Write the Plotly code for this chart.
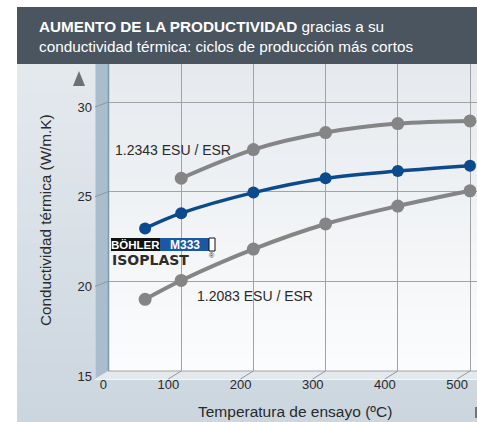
import plotly.graph_objects as go

# ---- data ----
temps_1_2343 = [100, 200, 300, 400, 500]
vals_1_2343 = [25.75, 27.35, 28.3, 28.8, 28.95]

temps_m333 = [50, 100, 200, 300, 400, 500]
vals_m333 = [22.95, 23.8, 24.95, 25.75, 26.15, 26.45]

temps_1_2083 = [50, 100, 200, 300, 400, 500]
vals_1_2083 = [19.0, 20.05, 21.8, 23.2, 24.2, 25.05]

x_ticks = [0, 100, 200, 300, 400, 500]
y_ticks = [15, 20, 25, 30]

W, H = 477, 422
L, T, B = 109, 64, 51
PW = W - L
PH = H - T - B


def X(px):
    return (px - L) / PW


def Y(py):
    return (H - B - py) / PH


FONT = "Liberation Sans, Arial, sans-serif"
GRAY = "#858585"
BLUE = "#0b4a8c"

fig = go.Figure()

fig.add_trace(go.Scatter(x=temps_1_2343, y=vals_1_2343, mode="lines+markers",
                         line=dict(color=GRAY, width=4, shape="spline"),
                         marker=dict(color=GRAY, size=13), hoverinfo="x+y"))
fig.add_trace(go.Scatter(x=temps_1_2083, y=vals_1_2083, mode="lines+markers",
                         line=dict(color=GRAY, width=4, shape="spline"),
                         marker=dict(color=GRAY, size=13), hoverinfo="x+y"))
fig.add_trace(go.Scatter(x=temps_m333, y=vals_m333, mode="lines+markers",
                         line=dict(color=BLUE, width=3.5, shape="spline"),
                         marker=dict(color=BLUE, size=12), hoverinfo="x+y"))

shapes = []


def prect(x0, y0, x1, y1, color, layer="below", line=None):
    shapes.append(dict(type="rect", xref="paper", yref="paper",
                       x0=X(x0), x1=X(x1), y0=Y(y0), y1=Y(y1),
                       fillcolor=color, line=line or dict(width=0), layer=layer))


def lerp(c0, c1, t):
    return "rgb(%d,%d,%d)" % tuple(round(a + (b - a) * t) for a, b in zip(c0, c1))


# outer background gradient
n = 24
top_c, bot_c = (228, 233, 238), (204, 214, 223)
for i in range(n):
    y0 = 64 + (422 - 64) * i / n
    y1 = 64 + (422 - 64) * (i + 1) / n + 1
    prect(17, y0, 477, y1, lerp(top_c, bot_c, i / (n - 1)))

# plot-area gradient (back wall)
ptop, pbot = (230, 234, 238), (251, 252, 253)
for i in range(n):
    y0 = 64 + (371 - 64) * i / n
    y1 = 64 + (371 - 64) * (i + 1) / n + 1
    prect(109, y0, 477, min(y1, 371), lerp(ptop, pbot, i / (n - 1)))

# side wall
shapes.append(dict(type="path", xref="paper", yref="paper",
                   path=f"M {X(95)} {Y(64)} L {X(108)} {Y(64)} L {X(108)} {Y(371)} L {X(95)} {Y(379)} Z",
                   fillcolor="#a9bdcd", line=dict(width=0), layer="below"))
shapes.append(dict(type="line", xref="paper", yref="paper",
                   x0=X(108.5), x1=X(108.5), y0=Y(64), y1=Y(371),
                   line=dict(color="#8099ad", width=1.5), layer="below"))
shapes.append(dict(type="line", xref="paper", yref="paper",
                   x0=X(95.5), x1=X(95.5), y0=Y(64), y1=Y(379),
                   line=dict(color="#c3d1dc", width=1), layer="below"))
# floor
shapes.append(dict(type="path", xref="paper", yref="paper",
                   path=f"M {X(95)} {Y(379)} L {X(108)} {Y(371)} L {X(477)} {Y(371)} L {X(477)} {Y(379)} Z",
                   fillcolor="#e4e9ee", line=dict(width=0), layer="below"))
shapes.append(dict(type="line", xref="paper", yref="paper",
                   x0=X(95), x1=X(477), y0=Y(379.5), y1=Y(379.5),
                   line=dict(color="#f4f6f8", width=1), layer="below"))
shapes.append(dict(type="line", xref="paper", yref="paper",
                   x0=X(108), x1=X(477), y0=Y(371), y1=Y(371),
                   line=dict(color="#a0a4a8", width=1), layer="below"))

# slanted depth ticks
for v in x_ticks:
    shapes.append(dict(type="line", xref="x", yref="paper",
                       xsizemode="pixel", xanchor=v, x0=-13, x1=0,
                       y0=Y(379), y1=Y(371),
                       line=dict(color="#8e979f", width=1)))
for v in y_ticks:
    shapes.append(dict(type="line", xref="paper", yref="y",
                       ysizemode="pixel", yanchor=v, y0=-5, y1=0,
                       x0=X(95), x1=X(108),
                       line=dict(color="#8e979f", width=1)))

# title bar
prect(17, 7, 477, 64, "#4a5560", layer="above")

# logo boxes
prect(111, 238, 160, 251, "#111111", layer="above")
prect(160, 238, 209, 251, "#1b58a3", layer="above")
prect(209, 238, 215, 251, "#ffffff", layer="above", line=dict(color="#111111", width=1))

# bottom-right mark
prect(475, 407, 477, 418, "#6f7479", layer="above")

# top arrow
shapes.append(dict(type="path", xref="paper", yref="paper",
                   path=f"M {X(73)} {Y(86)} L {X(79)} {Y(71)} L {X(85)} {Y(86)} Z",
                   fillcolor="#6e7174", line=dict(width=0), layer="above"))

annotations = [
    dict(xref="paper", yref="paper", x=X(37), y=Y(37), xanchor="left", yanchor="middle",
         align="left", showarrow=False,
         text="<b>AUMENTO DE LA PRODUCTIVIDAD</b> gracias a su<br>conductividad térmica: ciclos de producción más cortos",
         font=dict(family=FONT, size=15.3, color="#ffffff")),
    dict(xref="paper", yref="paper", x=X(45), y=Y(220), xanchor="center", yanchor="middle",
         textangle=-90, showarrow=False,
         text="Conductividad térmica (W/m.K)", font=dict(family=FONT, size=15.3, color="#2a2a2a")),
    dict(xref="paper", yref="paper", x=X(295), y=Y(411), xanchor="center", yanchor="middle",
         showarrow=False,
         text="Temperatura de ensayo (ºC)", font=dict(family=FONT, size=15.5, color="#2a2a2a")),
    dict(xref="paper", yref="paper", x=X(113), y=Y(150), xanchor="left", yanchor="middle",
         showarrow=False,
         text="1.2343 ESU / ESR", font=dict(family=FONT, size=14, color="#2a2a2a")),
    dict(xref="paper", yref="paper", x=X(195), y=Y(296), xanchor="left", yanchor="middle",
         showarrow=False,
         text="1.2083 ESU / ESR", font=dict(family=FONT, size=14, color="#2a2a2a")),
    dict(xref="paper", yref="paper", x=X(135.5), y=Y(244.5), xanchor="center", yanchor="middle",
         showarrow=False,
         text="<b>BÖHLER</b>", font=dict(family=FONT, size=11.5, color="#ffffff")),
    dict(xref="paper", yref="paper", x=X(184.5), y=Y(244.5), xanchor="center", yanchor="middle",
         showarrow=False,
         text="<b>M333</b>", font=dict(family=FONT, size=12, color="#ffffff")),
    dict(xref="paper", yref="paper", x=X(110), y=Y(259.5), xanchor="left", yanchor="middle",
         showarrow=False,
         text="<b>ISOPLAST</b>", font=dict(family="DejaVu Sans, sans-serif", size=14, color="#2d2d2d")),
    dict(xref="paper", yref="paper", x=X(207), y=Y(255), xanchor="left", yanchor="middle",
         showarrow=False,
         text="®", font=dict(family=FONT, size=7, color="#2d2d2d")),
]

fig.update_layout(
    width=W, height=H,
    margin=dict(l=L, r=0, t=T, b=B, pad=0),
    paper_bgcolor="#ffffff",
    plot_bgcolor="rgba(0,0,0,0)",
    showlegend=False,
    shapes=shapes,
    annotations=annotations,
    xaxis=dict(range=[0, PW / 0.722], tickvals=x_ticks, ticktext=[str(v) for v in x_ticks],
               showgrid=True, gridcolor="#a3a3a3", gridwidth=1, zeroline=False,
               showline=False, ticks="", ticklabelposition="outside left",
               ticklabelshift=-2, ticklabelstandoff=4,
               automargin=False,
               tickfont=dict(family=FONT, size=13, color="#2a2a2a"), fixedrange=True),
    yaxis=dict(range=[15, 15 + PH / 17.93], tickvals=y_ticks, ticktext=[str(v) for v in y_ticks],
               showgrid=True, gridcolor="#a3a3a3", gridwidth=1, zeroline=False,
               showline=False, ticks="", ticklabelshift=5, ticklabelstandoff=16,
               automargin=False,
               tickfont=dict(family=FONT, size=13, color="#2a2a2a"), fixedrange=True),
)

fig.write_html("out.html", config={"displayModeBar": False},
               post_script="document.body.style.margin='0';document.body.style.overflow='hidden';")
